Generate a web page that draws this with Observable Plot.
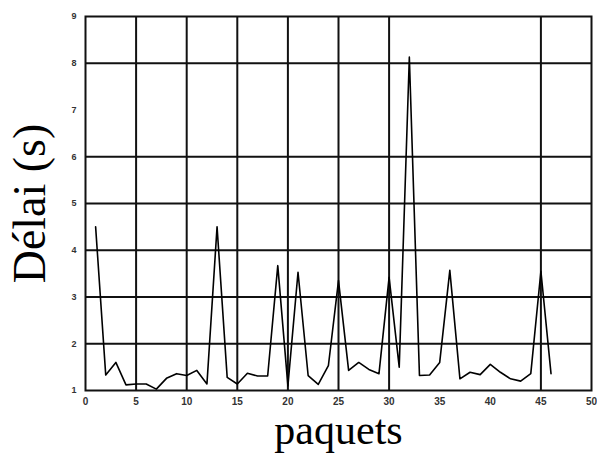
<!DOCTYPE html>
<html><head><meta charset="utf-8">
<script src="https://cdn.jsdelivr.net/npm/d3@7"></script>
<script src="https://cdn.jsdelivr.net/npm/@observablehq/plot@0.6"></script>
<style>body{margin:0;background:#fff}</style>
</head><body><div id="chart"></div>
<script>
const paquets = [1,2,3,4,5,6,7,8,9,10,11,12,13,14,15,16,17,18,19,20,21,22,23,24,25,26,27,28,29,30,31,32,33,34,35,36,37,38,39,40,41,42,43,44,45,46];
const delai = [4.5,1.33,1.6,1.12,1.14,1.14,1.03,1.26,1.36,1.32,1.43,1.14,4.5,1.28,1.14,1.37,1.31,1.31,3.67,1.1,3.53,1.32,1.13,1.53,3.35,1.43,1.6,1.45,1.36,3.42,1.5,8.13,1.32,1.33,1.6,3.57,1.25,1.39,1.34,1.56,1.39,1.25,1.2,1.36,3.55,1.36];
const xTicks = [0,5,10,15,20,25,30,35,40,45,50];
const yTicks = [1,2,3,4,5,6,7,8,9];
const xGrid = [5,10,15,20,25,30,45];
const yGrid = [2,3,4,5,6,8];
const xLabel = ["paquets"];
const yLabel = ["Délai (s)"];
const data = paquets.map((p, i) => ({paquet: p, delai: delai[i]}));

const chart = Plot.plot({
  width: 597, height: 455,
  marginLeft: 85, marginRight: 6, marginTop: 16, marginBottom: 65,
  x: {domain: [0, 50]},
  y: {domain: [1, 9]},
  style: {background: "#fff", fontFamily: "'Liberation Sans', Arial, sans-serif"},
  marks: [
    Plot.ruleX(xGrid, {stroke: "#111", strokeWidth: 2}),
    Plot.ruleY(yGrid, {stroke: "#111", strokeWidth: 2}),
    Plot.line(data, {x: "paquet", y: "delai", stroke: "#000", strokeWidth: 1.6}),
    Plot.frame({stroke: "#111", strokeWidth: 2}),
    Plot.axisX({ticks: xTicks, tickSize: 0, tickPadding: 7, label: null, fontSize: 10, fontWeight: "bold", fill: "#333"}),
    Plot.axisY({ticks: yTicks, tickSize: 0, tickPadding: 9, label: null, fontSize: 9, fontWeight: "bold", fill: "#333"}),
    Plot.text(xLabel, {text: d => d, frameAnchor: "bottom", textAnchor: "middle", lineAnchor: "middle", dy: 40, fontSize: 42, fontFamily: "'Liberation Serif', 'Times New Roman', serif", fill: "#000"}),
    Plot.text(yLabel, {text: d => d, frameAnchor: "left", textAnchor: "middle", lineAnchor: "middle", dx: -55, rotate: -90, fontSize: 46, fontFamily: "'Liberation Serif', 'Times New Roman', serif", fill: "#000"})
  ]
});
document.getElementById("chart").appendChild(chart);
</script>
</body></html>
